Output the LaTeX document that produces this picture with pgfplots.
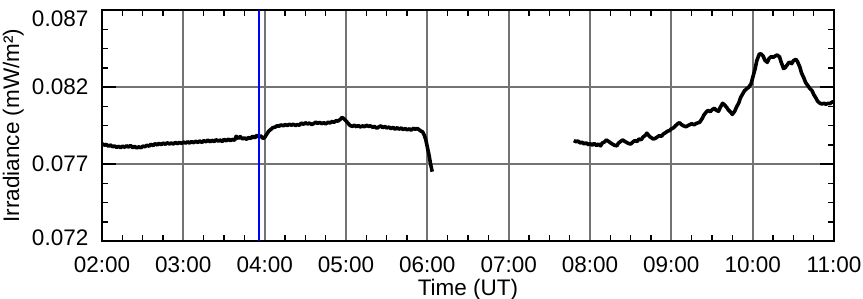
\documentclass[border=0pt]{standalone}
\usepackage{fontspec}
\setmainfont{Liberation Sans}
\usepackage{pgfplots}
\pgfplotsset{compat=1.18}
\pgfplotstableread{
h v
2.00 0.07832
2.03 0.07822
2.05 0.07828
2.08 0.07815
2.10 0.07824
2.13 0.07812
2.15 0.07818
2.18 0.07808
2.20 0.07815
2.23 0.07806
2.25 0.07816
2.28 0.07809
2.30 0.07818
2.33 0.07810
2.35 0.07820
2.38 0.07806
2.40 0.07814
2.43 0.07804
2.45 0.07812
2.48 0.07805
2.50 0.07816
2.53 0.07812
2.55 0.07822
2.58 0.07816
2.60 0.07828
2.63 0.07820
2.65 0.07832
2.68 0.07824
2.70 0.07834
2.73 0.07826
2.75 0.07836
2.78 0.07828
2.80 0.07838
2.83 0.07830
2.85 0.07836
2.88 0.07830
2.90 0.07840
2.93 0.07832
2.95 0.07840
2.98 0.07834
3.00 0.07842
3.03 0.07836
3.05 0.07844
3.08 0.07836
3.10 0.07846
3.13 0.07838
3.15 0.07848
3.18 0.07840
3.20 0.07850
3.23 0.07840
3.25 0.07852
3.28 0.07844
3.30 0.07856
3.33 0.07844
3.35 0.07854
3.38 0.07846
3.40 0.07858
3.43 0.07848
3.45 0.07856
3.48 0.07846
3.50 0.07860
3.53 0.07850
3.55 0.07862
3.58 0.07852
3.60 0.07860
3.63 0.07854
3.65 0.07880
3.68 0.07866
3.70 0.07878
3.73 0.07862
3.75 0.07870
3.78 0.07860
3.80 0.07872
3.83 0.07866
3.85 0.07880
3.88 0.07870
3.90 0.07886
3.93 0.07876
3.95 0.07884
3.98 0.07866
4.00 0.07872
4.03 0.07898
4.05 0.07914
4.08 0.07926
4.10 0.07936
4.13 0.07940
4.15 0.07948
4.18 0.07946
4.20 0.07954
4.23 0.07948
4.25 0.07956
4.28 0.07950
4.30 0.07958
4.33 0.07952
4.35 0.07958
4.38 0.07950
4.40 0.07956
4.43 0.07952
4.45 0.07966
4.48 0.07958
4.50 0.07968
4.53 0.07960
4.55 0.07966
4.58 0.07956
4.60 0.07962
4.63 0.07972
4.65 0.07964
4.68 0.07970
4.70 0.07962
4.73 0.07968
4.75 0.07960
4.78 0.07972
4.80 0.07966
4.83 0.07976
4.85 0.07970
4.88 0.07982
4.90 0.07978
4.93 0.07990
4.95 0.08002
4.97 0.07996
5.00 0.07980
5.03 0.07962
5.05 0.07950
5.08 0.07944
5.10 0.07952
5.13 0.07942
5.15 0.07950
5.18 0.07940
5.20 0.07948
5.23 0.07942
5.25 0.07952
5.28 0.07944
5.30 0.07948
5.33 0.07938
5.35 0.07944
5.38 0.07932
5.40 0.07940
5.43 0.07948
5.45 0.07936
5.48 0.07944
5.50 0.07934
5.53 0.07940
5.55 0.07930
5.58 0.07938
5.60 0.07926
5.63 0.07936
5.65 0.07926
5.68 0.07934
5.70 0.07924
5.73 0.07930
5.75 0.07922
5.78 0.07928
5.80 0.07920
5.83 0.07932
5.85 0.07926
5.88 0.07930
5.90 0.07922
5.92 0.07914
5.94 0.07910
5.96 0.07890
5.98 0.07860
6.00 0.07810
6.02 0.07760
6.04 0.07700
6.06 0.07650
}\segA
\pgfplotstableread{
h v
7.80 0.07852
7.83 0.07844
7.85 0.07850
7.88 0.07836
7.90 0.07842
7.93 0.07830
7.95 0.07838
7.98 0.07826
8.00 0.07832
8.03 0.07822
8.05 0.07834
8.08 0.07820
8.10 0.07830
8.13 0.07818
8.15 0.07836
8.18 0.07844
8.20 0.07856
8.23 0.07846
8.25 0.07838
8.28 0.07828
8.30 0.07822
8.33 0.07818
8.35 0.07836
8.38 0.07848
8.40 0.07856
8.43 0.07846
8.45 0.07840
8.48 0.07832
8.50 0.07830
8.53 0.07844
8.55 0.07852
8.58 0.07846
8.60 0.07862
8.63 0.07858
8.65 0.07874
8.68 0.07886
8.70 0.07900
8.73 0.07880
8.75 0.07872
8.78 0.07862
8.80 0.07866
8.83 0.07876
8.85 0.07884
8.88 0.07880
8.90 0.07894
8.93 0.07904
8.95 0.07912
8.98 0.07918
9.00 0.07928
9.03 0.07936
9.05 0.07948
9.08 0.07962
9.10 0.07968
9.13 0.07954
9.15 0.07948
9.18 0.07942
9.20 0.07948
9.23 0.07956
9.25 0.07962
9.28 0.07954
9.30 0.07962
9.33 0.07968
9.35 0.07972
9.38 0.07996
9.40 0.08018
9.43 0.08038
9.45 0.08048
9.48 0.08040
9.50 0.08052
9.53 0.08062
9.55 0.08050
9.58 0.08042
9.60 0.08066
9.63 0.08094
9.65 0.08086
9.68 0.08068
9.70 0.08052
9.73 0.08036
9.75 0.08022
9.78 0.08044
9.80 0.08068
9.83 0.08098
9.85 0.08130
9.88 0.08158
9.90 0.08176
9.93 0.08190
9.95 0.08198
9.98 0.08220
10.00 0.08260
10.03 0.08318
10.05 0.08370
10.08 0.08412
10.10 0.08416
10.13 0.08400
10.15 0.08374
10.18 0.08360
10.20 0.08384
10.23 0.08398
10.25 0.08392
10.28 0.08402
10.30 0.08408
10.33 0.08396
10.35 0.08362
10.38 0.08320
10.40 0.08326
10.43 0.08348
10.45 0.08362
10.48 0.08352
10.50 0.08370
10.53 0.08380
10.55 0.08366
10.58 0.08330
10.60 0.08292
10.63 0.08258
10.65 0.08230
10.68 0.08208
10.70 0.08192
10.73 0.08176
10.75 0.08152
10.78 0.08126
10.80 0.08106
10.83 0.08094
10.85 0.08090
10.88 0.08094
10.90 0.08088
10.93 0.08094
10.95 0.08092
10.98 0.08104
11.00 0.08100
}\segB
\begin{document}
\fontsize{22.5}{27}\selectfont
\begin{tikzpicture}
\begin{axis}[
  scale only axis, width=732pt, height=231pt,
  xmin=2, xmax=11, ymin=0.072, ymax=0.087,
  scaled y ticks=false, scaled x ticks=false,
  xtick={2,3,4,5,6,7,8,9,10,11},
  xticklabels={02:00,03:00,04:00,05:00,06:00,07:00,08:00,09:00,10:00,11:00},
  ytick={0.072,0.077,0.082,0.087},
  yticklabels={\raisebox{-4pt}[0pt][0pt]{0.072},0.077,0.082,\raisebox{-16pt}[0pt][0pt]{0.087}},
  minor x tick num=3, minor y tick num=3,
  tick align=inside,
  major tick length=14pt, minor tick length=6pt,
  every tick/.style={black, line width=1.5pt},
  major x tick style={draw=none},
  grid=major,
  major grid style={draw=black!55, line width=2pt},
  axis line style={line width=2pt},
  tick label style={font=\fontsize{22.5}{27}\selectfont},
  xticklabel style={yshift=-8pt},
  yticklabel style={xshift=-6pt},
  label style={font=\fontsize{22.5}{27}\selectfont},
  xlabel style={yshift=9pt},
  ylabel shift=-7pt,
  xlabel={Time (UT)}, ylabel={Irradiance (mW/m²)},
  clip=true,
]
\addplot[black, line width=3.6pt, line join=round] table[x=h, y=v] {\segA};
\addplot[black, line width=3.6pt, line join=round] table[x=h, y=v] {\segB};
\addplot[blue, line width=2pt] coordinates {(3.93,0.072) (3.93,0.087)};
\end{axis}
\pgfresetboundingbox
\path[use as bounding box] ([shift={(-102pt,-57pt)}]current axis.south west) rectangle ([shift={(29pt,10pt)}]current axis.north east);
\end{tikzpicture}
\end{document}
